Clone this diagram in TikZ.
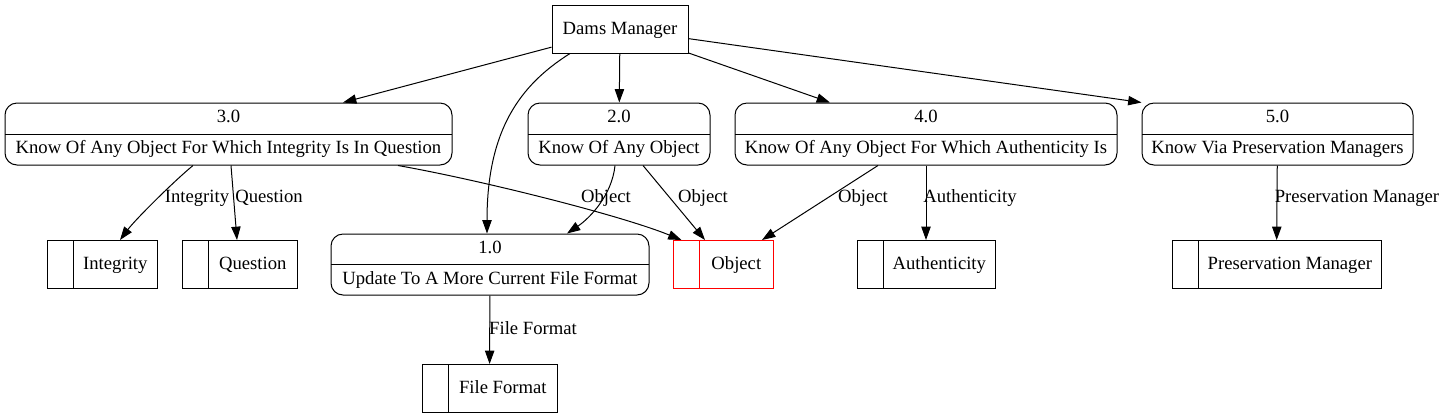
\documentclass[tikz,border=0pt]{standalone}
\usepackage{fontspec}
\setmainfont{Liberation Serif}
\usetikzlibrary{positioning, arrows.meta, calc}

\begin{document}
\begin{tikzpicture}[
        x=0.75pt, y=-0.75pt,
        >={Triangle[length=10pt, width=7pt]},
        line width=0.75pt,
        font=\fontsize{14pt}{17pt}\selectfont,
        entity/.style={draw, rectangle, minimum width=102pt, minimum height=36pt, inner sep=0pt,
            text height=9.5pt, text depth=2pt},
        process/.style={draw, rectangle, rounded corners=9pt, minimum height=46.5pt, inner sep=0pt, align=center,
            font=\fontsize{14pt}{23.25pt}\selectfont,
            path picture={\draw[line width=0.75pt] (path picture bounding box.west) -- (path picture bounding box.east);}},
        datastore/.style={draw=#1, rectangle, minimum height=36pt, inner sep=0pt,
            text height=9.5pt, text depth=2pt,
            execute at begin node={\hspace*{20pt}},
            path picture={\draw[line width=0.75pt, draw=#1] ([xshift=20pt]path picture bounding box.north west) -- ([xshift=20pt]path picture bounding box.south west);}},
        datastore/.default=black,
        flow/.style={->},
        lbl/.style={inner sep=0pt},
    ]
        \useasboundingbox (0,0) rectangle (1443,419);

        % Draw the external entity
        \node[entity] (dams) at (620,29) {Dams Manager};

        % Draw the processes
        \node[process, minimum width=335.25pt] (p3) at (228.5,134) {3.0\\Know Of Any Object For Which Integrity Is In Question};
        \node[process, minimum width=136.5pt] (p2) at (619,134) {2.0\\Know Of Any Object};
        \node[process, minimum width=286.5pt] (p4) at (926,134) {4.0\\Know Of Any Object For Which Authenticity Is};
        \node[process, minimum width=203.25pt] (p5) at (1277.5,134) {5.0\\Know Via Preservation Managers};
        \node[process, minimum width=238.5pt, minimum height=45.75pt] (p1) at (490,264.5) {1.0\\Update To A More Current File Format};

        % Draw the data stores
        \node[datastore, minimum width=82.5pt] (integrity) at (102,264.5) {Integrity};
        \node[datastore, minimum width=86.25pt] (question) at (239.5,264.5) {Question};
        \node[datastore=red, minimum width=75pt] (object) at (723,264.5) {Object};
        \node[datastore, minimum width=103.5pt] (authenticity) at (926,264.5) {Authenticity};
        \node[datastore, minimum width=156.75pt] (presmgr) at (1276.5,264.5) {Preservation Manager};
        \node[datastore, minimum width=101.25pt] (fileformat) at (489.5,388.5) {File Format};

        % Connect the manager with every process
        \draw[flow] (dams) -- ($(p3.north)+(114.5,0)$);
        \draw[flow] ($(dams.south)+(-50,0)$) .. controls (520,85) and (487,130) .. ($(p1.north)+(-3,0)$);
        \draw[flow] (dams) -- (p2);
        \draw[flow] (dams) -- ($(p4.north)+(-96,0)$);
        \draw[flow] (dams) -- (p5.north west);

        % Connect the processes with the data stores
        \draw[flow] ($(p3.south)+(-35.5,0)$) .. controls (173,182) and (135,220) .. ($(integrity.north)+(18,0)$);
        \draw[flow] ($(p3.south)+(2.5,0)$) -- ($(question.north)+(-2.5,0)$);
        \draw[flow] ($(p3.south)+(169.5,0)$) .. controls (480,180) and (620,215) .. ($(object.north west)+(9,0)$);
        \draw[flow] ($(p2.south)+(-4,0)$) .. controls (612,195) and (590,218) .. ($(p1.north)+(77,0)$);
        \draw[flow] ($(p2.south)+(24,0)$) -- ($(object.north)+(-18,0)$);
        \draw[flow] ($(p4.south)+(-48,0)$) -- ($(object.north)+(39,0)$);
        \draw[flow] (p4) -- (authenticity);
        \draw[flow] (p5) -- (presmgr);
        \draw[flow] (p1) -- (fileformat);

        % Edge labels
        \node[lbl] (l-integrity) at (197,198) {Integrity};
        \node[lbl] (l-question) at (269,198) {Question};
        \node[lbl] (l-object-a) at (606,198) {Object};
        \node[lbl] (l-object-b) at (703,198) {Object};
        \node[lbl] (l-object-c) at (863,198) {Object};
        \node[lbl] (l-authenticity) at (970,198) {Authenticity};
        \node[lbl] (l-presmgr) at (1357,198) {Preservation Manager};
        \node[lbl] (l-fileformat) at (533,328) {File Format};
    \end{tikzpicture}
\end{document}
